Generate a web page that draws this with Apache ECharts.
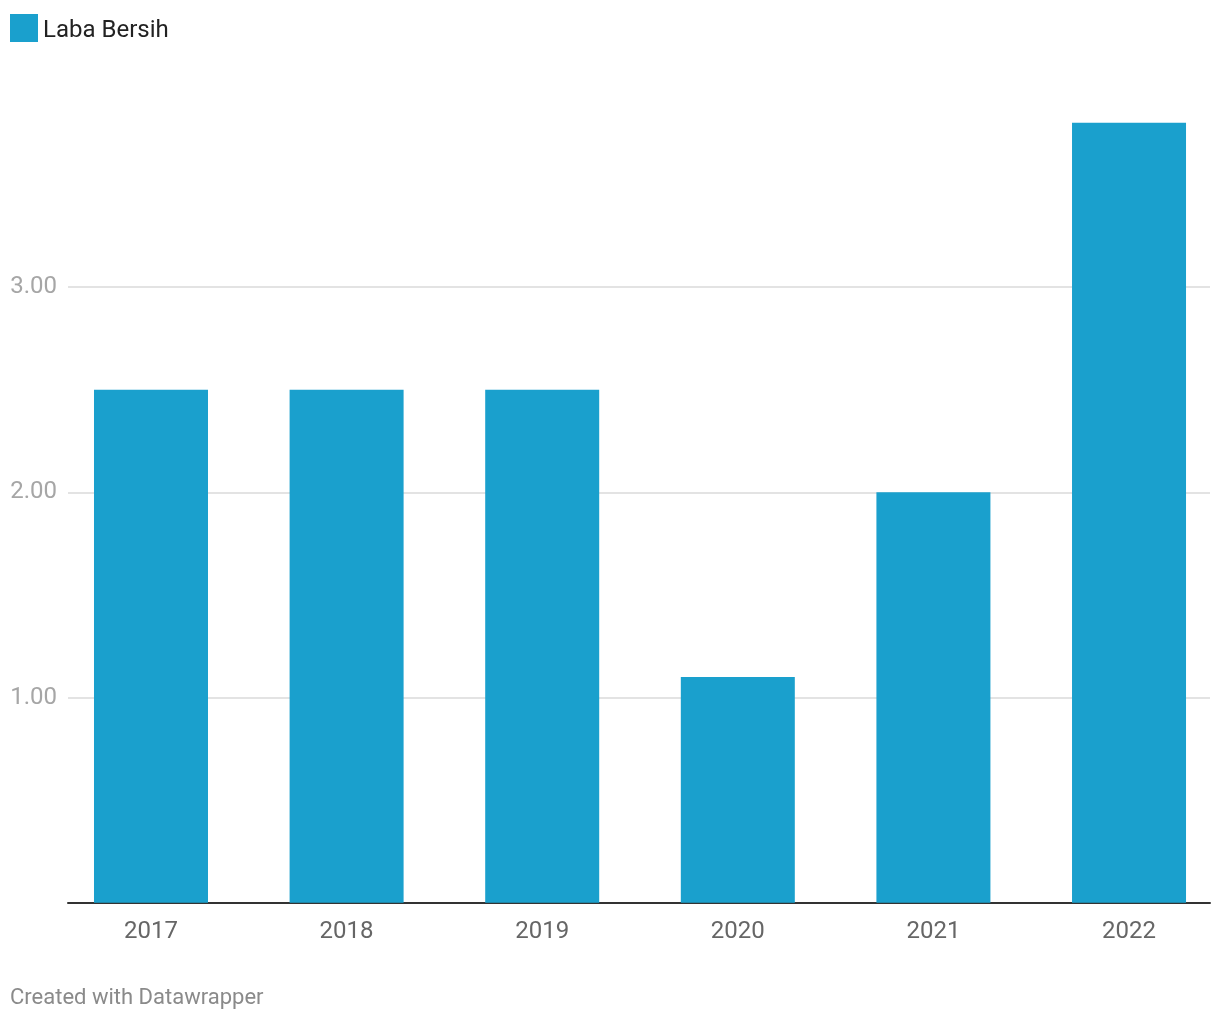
<!DOCTYPE html>
<html>
<head>
<meta charset="utf-8">
<script src="https://cdn.jsdelivr.net/npm/echarts@6/dist/echarts.min.js"></script>
<style>
  html, body { margin: 0; padding: 0; background: #fff; }
  #chart { width: 1220px; height: 1020px; }
</style>
</head>
<body>
<div id="chart"></div>
<script>
const years = [2017, 2018, 2019, 2020, 2021, 2022];
const labaBersih = [2.5, 2.5, 2.5, 1.1, 2.0, 3.8];
const yTicks = [1, 2, 3];
const seriesName = 'Laba Bersih';
const footerText = 'Created with Datawrapper';

const chart = echarts.init(document.getElementById('chart'), null, { renderer: 'canvas' });
const FONT = 'Roboto, "Noto Sans", sans-serif';

chart.setOption({
  animation: false,
  backgroundColor: '#ffffff',
  textStyle: { fontFamily: FONT },
  title: {
    text: footerText,
    left: 10,
    top: 987,
    padding: 0,
    textStyle: { fontFamily: FONT, fontSize: 22, fontWeight: 'normal', color: '#8a8a8a' }
  },
  legend: {
    left: 10,
    top: 14,
    padding: 0,
    icon: 'rect',
    itemWidth: 28,
    itemHeight: 28,
    selectedMode: false,
    formatter: '{a|{name}}',
    textStyle: {
      fontFamily: FONT, fontSize: 24, color: '#222222',
      rich: { a: { fontFamily: FONT, fontSize: 24, color: '#222222', padding: [5, 0, 0, 0] } }
    },
    data: [seriesName]
  },
  grid: {
    left: 68,
    right: 10,
    top: 122.8,
    bottom: 117.25,
    containLabel: false
  },
  xAxis: {
    type: 'value',
    min: 2016.5757,
    max: 2022.414,
    axisLine: { show: true, onZero: true, lineStyle: { color: '#333333', width: 2 } },
    axisTick: { show: false },
    splitLine: { show: false },
    axisLabel: {
      customValues: years,
      formatter: v => String(v),
      margin: 17,
      fontFamily: FONT,
      fontSize: 24,
      color: '#666666'
    }
  },
  yAxis: {
    type: 'value',
    min: 0,
    max: 3.8,
    interval: 1,
    axisLine: { show: false },
    axisTick: { show: false },
    axisLabel: {
      customValues: yTicks,
      formatter: v => v.toFixed(2),
      margin: 11,
      fontFamily: FONT,
      fontSize: 24,
      color: '#a6a6a6'
    },
    splitLine: {
      show: true,
      showMinLine: false,
      showMaxLine: false,
      lineStyle: { color: '#e3e3e3', width: 2 }
    }
  },
  series: [{
    name: seriesName,
    type: 'bar',
    barWidth: 114,
    itemStyle: { color: '#1aa0cd' },
    data: years.map((y, i) => [y, labaBersih[i]])
  }]
});
</script>
</body>
</html>
